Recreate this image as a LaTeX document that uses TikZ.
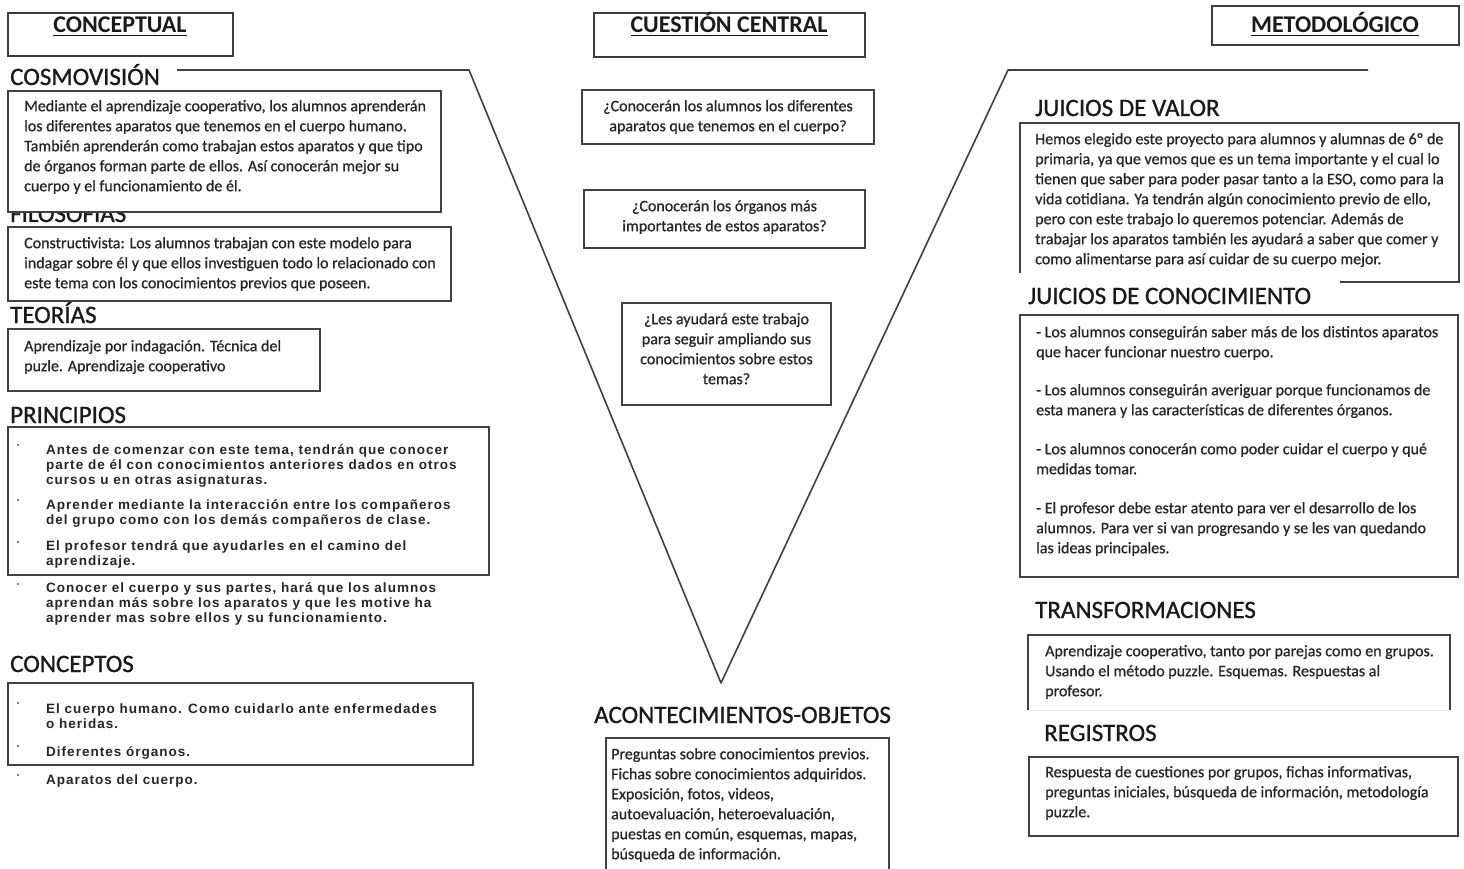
\documentclass[tikz,border=0pt]{standalone}
\usepackage{fontspec}
\setmainfont{Carlito}
\newfontfamily\cbody{Carlito}[FakeBold=0.8]
\newfontfamily\chead{Carlito}[FakeBold=1.0]
\newfontfamily\arialsp{Liberation Sans}[LetterSpace=7.5]
\definecolor{ink}{HTML}{1A1A1A}
\definecolor{bodyc}{HTML}{262626}
\definecolor{edge}{HTML}{404040}
\newcommand\ulbox[1]{\setbox0\hbox{#1}\rlap{\rule[-3.5pt]{\wd0}{1.7pt}}\box0}
\begin{document}
\begin{tikzpicture}[x=1pt,y=-1pt,
  frame/.style={draw=edge, line width=1.5pt},
  titlebox/.style={draw=ink!85, line width=1.8pt},
  title/.style={font=\fontsize{24}{26}\selectfont\bfseries, text=ink, inner sep=0pt, anchor=base},
  head/.style={font=\chead\fontsize{25}{28}\selectfont, text=ink, inner sep=0pt, anchor=base west},
  body/.style={font=\cbody\fontsize{16}{20}\selectfont, text=bodyc, inner sep=0pt, align=left, anchor=north west},
  bodycen/.style={body, align=center, anchor=north},
  arial/.style={font=\arialsp\bfseries\fontsize{13.5}{15}\selectfont, text=bodyc, inner sep=0pt, align=left, anchor=north west},
  dot/.style={fill=bodyc!80},
  vline/.style={draw=edge, line width=1.6pt, line join=round}
]
\useasboundingbox (0,0) rectangle (1464,869);
\fill[white] (0,0) rectangle (1464,869);

% ---- title boxes
\draw[titlebox] (8,13) rectangle (233,56);
\node[title] (tconc) at (120,33) {\ulbox{CONCEPTUAL}};
\draw[titlebox] (594,13) rectangle (865,57);
\node[title] (tcent) at (729,33) {\ulbox{CUESTIÓN CENTRAL}};
\draw[titlebox] (1212,6) rectangle (1459,45);
\node[title] (tmet) at (1335,33) {\ulbox{METODOLÓGICO}};

% ---- V shape
\coordinate (v1) at (177,70);
\coordinate (v2) at (469,70);
\coordinate (v3) at (721,683);
\coordinate (v4) at (1008,70);
\coordinate (v5) at (1368,70);
\draw[vline] (v1) -- (v2) -- (v3) -- (v4) -- (v5);

% ---- left column
\node[head] (hcosmo) at (10,85) {COSMOVISIÓN};
\node[head] (hfilo) at (10,222) {FILOSOFÍAS};
\draw[frame, fill=white] (8,91) rectangle (441,212);
\node[body] (tcosmo) at (24,97) {\strut Mediante el aprendizaje cooperativo, los alumnos aprenderán\\
los diferentes aparatos que tenemos en el cuerpo humano.\\
También aprenderán como trabajan estos aparatos y que tipo\\
de órganos forman parte de ellos. Así conocerán mejor su\\
cuerpo y el funcionamiento de él.};

\draw[frame] (8,227) rectangle (451,301);
\node[body] (tfilo) at (24,234) {\strut Constructivista: Los alumnos trabajan con este modelo para\\
indagar sobre él y que ellos investiguen todo lo relacionado con\\
este tema con los conocimientos previos que poseen.};

\node[head] (hteo) at (10,323) {TEORÍAS};
\draw[frame] (8,329) rectangle (320,391);
\node[body] (tteo) at (24,337) {\strut Aprendizaje por indagación. Técnica del\\
puzle. Aprendizaje cooperativo};

\node[head] (hprin) at (10,423) {PRINCIPIOS};
\draw[frame] (8,427) rectangle (489,575);
\node[arial] (p1) at (46,443.5) {\strut Antes de comenzar con este tema, tendrán que conocer\\
parte de él con conocimientos anteriores dados en otros\\
cursos u en otras asignaturas.};
\node[arial] (p2) at (46,498.5) {\strut Aprender mediante la interacción entre los compañeros\\
del grupo como con los demás compañeros de clase.};
\node[arial] (p3) at (46,540) {\strut El profesor tendrá que ayudarles en el camino del\\
aprendizaje.};
\node[arial] (p4) at (46,581.5) {\strut Conocer el cuerpo y sus partes, hará que los alumnos\\
aprendan más sobre los aparatos y que les motive ha\\
aprender mas sobre ellos y su funcionamiento.};
\foreach \yy in {445,500,542,584} \fill[dot] (18,\yy) circle (1.1);

\node[head] (hconc) at (10,672) {CONCEPTOS};
\draw[frame] (8,683) rectangle (473,765);
\node[arial] (c1) at (46,702.5) {\strut El cuerpo humano. Como cuidarlo ante enfermedades\\
o heridas.};
\node[arial] (c2) at (46,745.5) {\strut Diferentes órganos.};
\node[arial] (c3) at (46,773.5) {\strut Aparatos del cuerpo.};
\foreach \yy in {703,746,775} \fill[dot] (18,\yy) circle (1.1);

% ---- centre
\draw[frame] (582,90) rectangle (874,144);
\node[bodycen] (q1) at (728,97) {\strut ¿Conocerán los alumnos los diferentes\\
aparatos que tenemos en el cuerpo?};
\draw[frame] (584,190) rectangle (865,248);
\node[bodycen] (q2) at (724.5,197) {\strut ¿Conocerán los órganos más\\
importantes de estos aparatos?};
\draw[frame] (622,303) rectangle (831,405);
\node[bodycen] (q3) at (726.5,310) {\strut ¿Les ayudará este trabajo\\
para seguir ampliando sus\\
conocimientos sobre estos\\
temas?};

\node[head] (hacon) at (594,723) {ACONTECIMIENTOS-OBJETOS};
\draw[frame] (606,869) -- (606,738) -- (889,738) -- (889,869);
\node[body] (tacon) at (611,745) {\strut Preguntas sobre conocimientos previos.\\
Fichas sobre conocimientos adquiridos.\\
Exposición, fotos, videos,\\
autoevaluación, heteroevaluación,\\
puestas en común, esquemas, mapas,\\
búsqueda de información.};

% ---- right column
\node[head] (hjv) at (1035,116) {JUICIOS DE VALOR};
\draw[frame] (1020,273) -- (1020,123) -- (1459,123) -- (1459,282) -- (1340,282);
\node[body] (tjv) at (1035,130) {\strut Hemos elegido este proyecto para alumnos y alumnas de 6º de\\
primaria, ya que vemos que es un tema importante y el cual lo\\
tienen que saber para poder pasar tanto a la ESO, como para la\\
vida cotidiana. Ya tendrán algún conocimiento previo de ello,\\
pero con este trabajo lo queremos potenciar. Además de\\
trabajar los aparatos también les ayudará a saber que comer y\\
como alimentarse para así cuidar de su cuerpo mejor.};

\node[head] (hjc) at (1028,304) {JUICIOS DE CONOCIMIENTO};
\draw[frame] (1020,315) rectangle (1458,577);
\node[body] (tjc) at (1036,323) {\strut - Los alumnos conseguirán saber más de los distintos aparatos\\
que hacer funcionar nuestro cuerpo.\\[18pt]
- Los alumnos conseguirán averiguar porque funcionamos de\\
esta manera y las características de diferentes órganos.\\[19pt]
- Los alumnos conocerán como poder cuidar el cuerpo y qué\\
medidas tomar.\\[19pt]
- El profesor debe estar atento para ver el desarrollo de los\\
alumnos. Para ver si van progresando y se les van quedando\\
las ideas principales.};

\node[head] (htr) at (1035,618) {TRANSFORMACIONES};
\draw[frame] (1028,710) -- (1028,635) -- (1450,635) -- (1450,710);
\draw[draw=black!10, line width=1pt] (1028,710) -- (1450,710);
\node[body] (ttr) at (1045,642) {\strut Aprendizaje cooperativo, tanto por parejas como en grupos.\\
Usando el método puzzle. Esquemas. Respuestas al\\
profesor.};

\node[head] (hreg) at (1044,741) {REGISTROS};
\draw[frame] (1029,757) rectangle (1458,836);
\node[body] (treg) at (1045,763) {\strut Respuesta de cuestiones por grupos, fichas informativas,\\
preguntas iniciales, búsqueda de información, metodología\\
puzzle.};
\end{tikzpicture}
\end{document}
